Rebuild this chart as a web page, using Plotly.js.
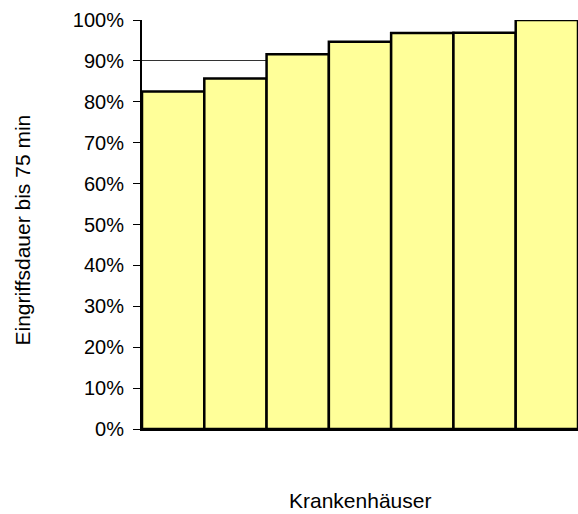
<!DOCTYPE html>
<html>
<head>
<meta charset="utf-8">
<script src="https://cdn.plot.ly/plotly-3.0.1.min.js"></script>
<style>html,body{margin:0;padding:0;background:#fff;}#chart{width:578px;height:514px;}</style>
</head>
<body>
<div id="chart"></div>
<script>
var categories = ['1', '2', '3', '4', '5', '6', '7'];
var values = [0.825, 0.857, 0.916, 0.947, 0.968, 0.969, 1.0];
var yTickVals = [0, 0.1, 0.2, 0.3, 0.4, 0.5, 0.6, 0.7, 0.8, 0.9, 1.0];
var yTickText = ['0%', '10%', '20%', '30%', '40%', '50%', '60%', '70%', '80%', '90%', '100%'];
var xTitle = 'Krankenhäuser';
var yTitle = 'Eingriffsdauer bis 75 min';

var font = 'Arial, "Liberation Sans", sans-serif';

Plotly.newPlot('chart', [{
  type: 'bar',
  x: categories,
  y: values,
  marker: {color: '#FFFF99', line: {color: '#000000', width: 2.5}},
  hoverinfo: 'none'
}], {
  width: 578, height: 514,
  margin: {l: 142, r: 0, t: 20, b: 85},
  paper_bgcolor: '#ffffff', plot_bgcolor: '#ffffff',
  bargap: 0,
  showlegend: false,
  font: {family: font, size: 20, color: '#000'},
  xaxis: {
    type: 'category', showticklabels: false, ticks: '',
    showgrid: false, zeroline: false,
    showline: true, linecolor: '#000', linewidth: 2,
    automargin: false
  },
  yaxis: {
    range: [0, 1], tickvals: yTickVals, ticktext: yTickText,
    ticks: 'outside', ticklen: 7, tickcolor: '#000', tickwidth: 1,
    ticklabelstandoff: 5,
    showgrid: true, gridcolor: '#333', gridwidth: 1,
    zeroline: false, showline: true, linecolor: '#000', linewidth: 2,
    tickfont: {family: font, size: 20, color: '#000'},
    automargin: false
  },
  annotations: [
    {text: xTitle, xref: 'paper', yref: 'paper', x: 0.5, y: 0, yshift: -85,
     xanchor: 'center', yanchor: 'bottom', showarrow: false,
     font: {family: font, size: 21, color: '#000'}},
    {text: yTitle, xref: 'paper', yref: 'paper', x: 0, y: 0.5, xshift: -120, yshift: -6,
     xanchor: 'center', yanchor: 'middle', textangle: -90, showarrow: false,
     font: {family: font, size: 21, color: '#000'}}
  ]
}, {staticPlot: true});
</script>
</body>
</html>
